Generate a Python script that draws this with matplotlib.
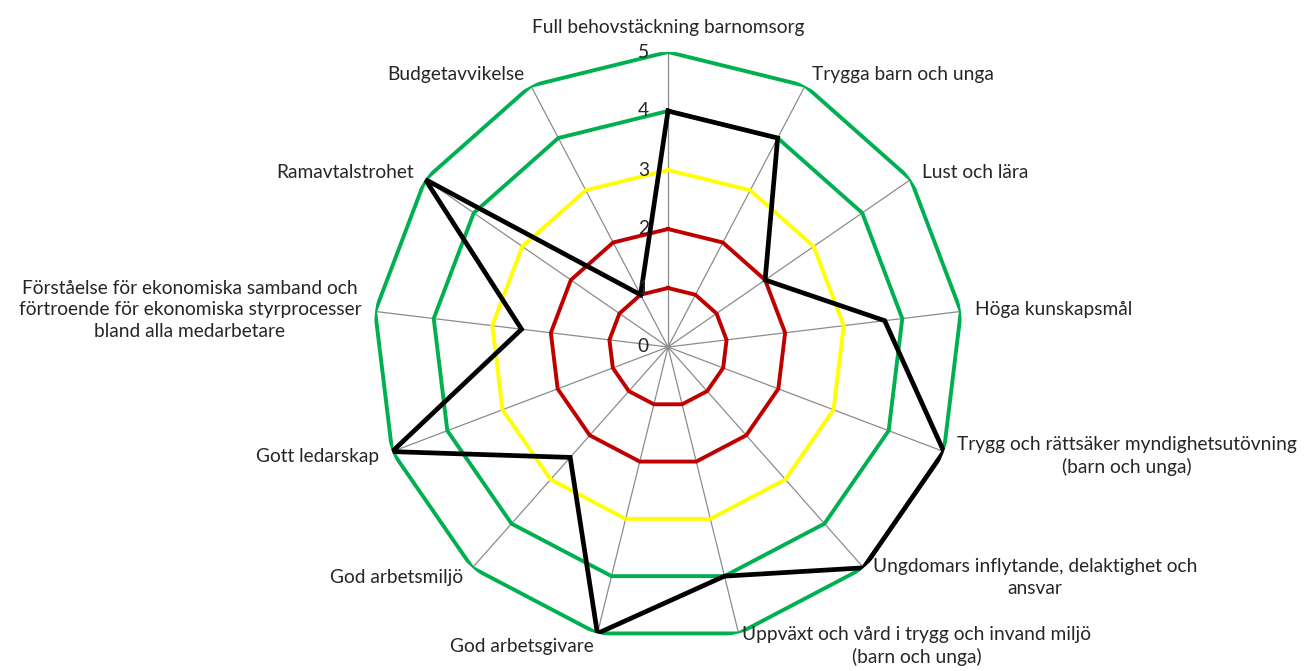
import numpy as np
import matplotlib
matplotlib.use("Agg")
import matplotlib.pyplot as plt

plt.rcParams['font.family'] = ['Lato', 'DejaVu Sans']

categories = [
    "Full behovstäckning barnomsorg",
    "Trygga barn och unga",
    "Lust och lära",
    "Höga kunskapsmål",
    "Trygg och rättsäker myndighetsutövning\n(barn och unga)",
    "Ungdomars inflytande, delaktighet och\nansvar",
    "Uppväxt och vård i trygg och invand miljö\n(barn och unga)",
    "God arbetsgivare",
    "God arbetsmiljö",
    "Gott ledarskap",
    "Förståelse för ekonomiska samband och\nförtroende för ekonomiska styrprocesser\nbland alla medarbetare",
    "Ramavtalstrohet",
    "Budgetavvikelse",
]
values = [4, 4, 2, 3.7, 5, 5, 4, 5, 2.5, 5, 2.5, 5, 1]
ring_levels = [1, 2, 3, 4, 5]
ring_colors = ["#C00000", "#C00000", "#FFFF00", "#00B050", "#00B050"]
tick_labels = ["0", "1", "2", "3", "4", "5"]

W, H = 1308, 671
fig = plt.figure(figsize=(W / 100, H / 100), dpi=100)
cx, cy, R = 668, 347, 295
ax = fig.add_axes([(cx - R) / W, (H - cy - R) / H, 2 * R / W, 2 * R / H], projection='polar')
ax.set_theta_zero_location('N')
ax.set_theta_direction(-1)
ax.set_ylim(0, 5)
ax.grid(False)
ax.set_xticks([])
ax.set_yticks([])
ax.spines['polar'].set_visible(False)
ax.patch.set_alpha(0)

n = len(categories)
theta = np.arange(n) * 2 * np.pi / n
theta_closed = np.append(theta, theta[0])

# spokes
for t in theta:
    ax.plot([t, t], [0, 5], color="#8C8C8C", lw=0.9, zorder=1)

# rings
for lvl, col in zip(ring_levels, ring_colors):
    ax.plot(theta_closed, [lvl] * (n + 1), color=col, lw=2.8, zorder=2, solid_joinstyle='miter')

# data
vals_closed = values + [values[0]]
ax.plot(theta_closed, vals_closed, color="black", lw=3.4, zorder=3, solid_joinstyle='miter')

FS = 13.8
# radial tick labels
for i, lab in enumerate(tick_labels):
    ax.annotate(lab, xy=(0, i), xytext=(-19, 0), textcoords='offset pixels',
                ha='right', va='center', fontsize=FS, color="#262626")

# category labels
for t, lab in zip(theta, categories):
    s, c = np.sin(t), np.cos(t)
    if abs(s) < 0.05:
        ha, va = 'center', 'bottom'
        dx, dy = 0, 16
    else:
        ha = 'left' if s > 0 else 'right'
        va = 'center'
        dx, dy = 14 * s, 13 * c
    ax.annotate(lab, xy=(t, 5), xytext=(dx, dy), textcoords='offset pixels',
                ha=ha, va=va, multialignment='center', fontsize=FS,
                color="#262626", linespacing=1.32, annotation_clip=False)

fig.savefig("out.png", dpi=100)
